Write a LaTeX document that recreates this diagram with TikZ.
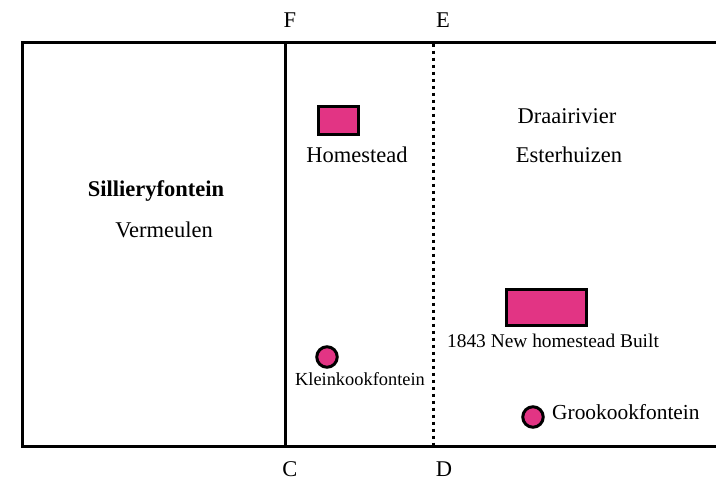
\documentclass[tikz,border=0pt]{standalone}
\usepackage{fontspec}
\setmainfont{Liberation Serif}
\definecolor{farmpink}{RGB}{226,52,132}

\begin{document}
\begin{tikzpicture}[x=1pt,y=-1pt,
  boundary/.style={line width=3pt,line join=miter},
  fence/.style={line width=3pt,dash pattern=on 3pt off 4pt},
  house/.style={draw,line width=3pt,fill=farmpink,inner sep=0pt},
  spring/.style={circle,draw,line width=3pt,fill=farmpink,minimum size=20.5pt,inner sep=0pt},
  lbl/.style={anchor=base,inner sep=0pt,font=\fontsize{22.5}{27}\selectfont}]
  \useasboundingbox (0,0) rectangle (716,482);

  % farm boundaries
  \coordinate (nw) at (22.5,42);
  \coordinate (sw) at (22.5,446);
  \coordinate (ne) at (717,42);
  \coordinate (se) at (717,446);
  \coordinate (f) at (285.5,42);
  \coordinate (c) at (285.5,446);
  \coordinate (e) at (433,43.5);
  \coordinate (d) at (433,444.5);
  \draw[boundary] (ne) -- (nw) -- (sw) -- (se);
  \draw[boundary] (f) -- (c);
  \draw[fence] (e) -- (d);

  % corner letters
  \node[lbl] (F) at (290,27) {F};
  \node[lbl] (E) at (443,27) {E};
  \node[lbl] (C) at (290,476.5) {C};
  \node[lbl] (D) at (444,476.5) {D};

  % Sillieryfontein
  \node[lbl] (silliery) at (156,196) {\bfseries Sillieryfontein};
  \node[lbl] (vermeulen) at (164,237) {Vermeulen};

  % middle strip
  \node[house,minimum width=40pt,minimum height=28pt] (homestead) at (338.5,120.5) {};
  \node[lbl] (homesteadlbl) at (357,162) {Homestead};
  \node[spring] (klein) at (327,357) {};
  \node[lbl,font=\fontsize{18.4}{22}\selectfont] (kleinlbl) at (360,385) {Kleinkookfontein};

  % Draairivier
  \node[lbl] (draai) at (567,123) {Draairivier};
  \node[lbl] (esterhuizen) at (569,162) {Esterhuizen};
  \node[house,minimum width=80pt,minimum height=36pt] (newhomestead) at (546.5,307.5) {};
  \node[lbl,font=\fontsize{19.4}{23}\selectfont] (newhomesteadlbl) at (553,347) {1843 New homestead Built};
  \node[spring] (groot) at (533,417) {};
  \node[lbl,anchor=base west,font=\fontsize{21.4}{26}\selectfont] (grootlbl) at (552,419) {Grookookfontein};
\end{tikzpicture}
\end{document}
